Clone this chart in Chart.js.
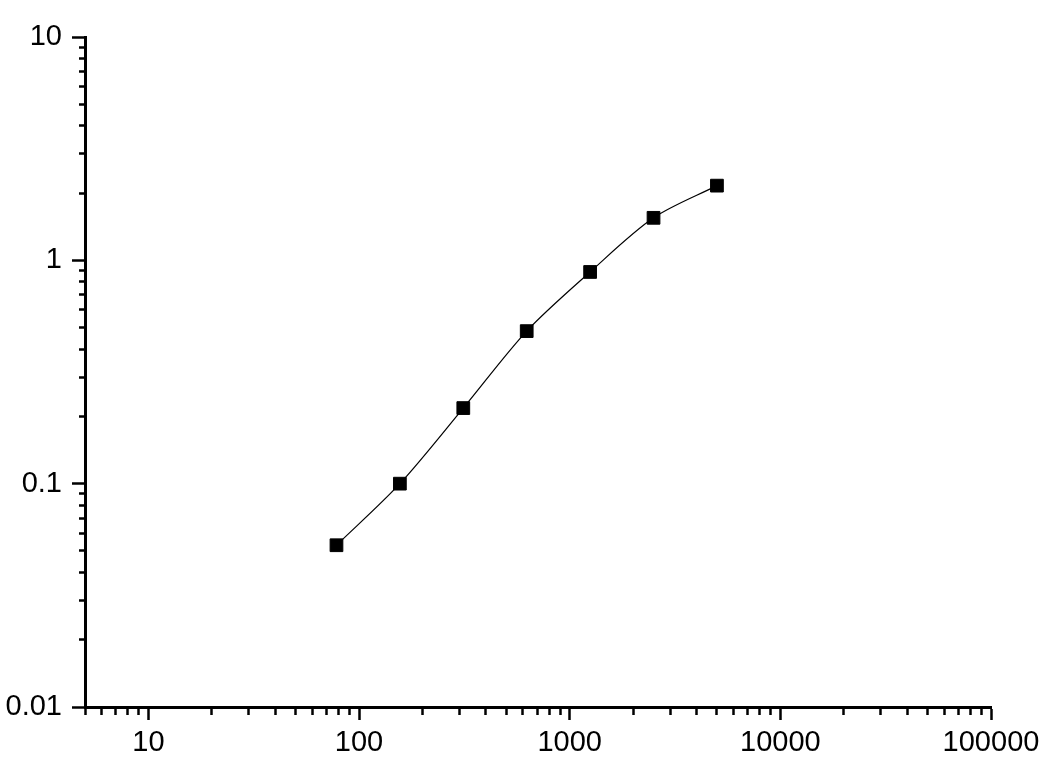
<!DOCTYPE html>
<html><head><meta charset="utf-8">
<script src="https://cdn.jsdelivr.net/npm/chart.js@4/dist/chart.umd.min.js"></script>
<style>html,body{margin:0;padding:0;background:#fff;} #wrap{width:1063px;height:769px;position:relative;}</style>
</head><body><div id="wrap"><canvas id="c"></canvas></div>
<script>
// ---- data ----
const concentrations = [78.125, 156.25, 312.5, 625, 1250, 2500, 5000];
const absorbance = [0.053, 0.100, 0.218, 0.482, 0.887, 1.55, 2.16];
// ---- axes ----
const xRange = [5, 100000];
const yRange = [0.01, 10];
const xMajorTicks = [10, 100, 1000, 10000, 100000];
const xTickLabels = ['10', '100', '1000', '10000', '100000'];
const yMajorTicks = [0.01, 0.1, 1, 10];
const yTickLabels = ['0.01', '0.1', '1', '10'];

const FONT = {family: "Liberation Sans", size: 29};

function near(a, b) { return Math.abs(Math.log10(a) - Math.log10(b)) < 1e-6; }
function majorIndex(list, v) { return list.findIndex(m => near(m, v)); }
function logTicks(min, max, majors) {
  const out = [];
  for (let e = Math.floor(Math.log10(min)); e <= Math.ceil(Math.log10(max)); e++) {
    for (let m = 1; m < 10; m++) {
      const v = +(m * Math.pow(10, e)).toPrecision(8);
      if (v >= min * 0.9999 && v <= max * 1.0001) out.push({value: v, major: majorIndex(majors, v) >= 0});
    }
  }
  return out;
}

const data = concentrations.map((c, i) => ({x: c, y: absorbance[i]}));

new Chart(document.getElementById('c'), {
  type: 'scatter',
  data: {
    datasets: [{
      data: data,
      showLine: true,
      borderColor: '#000',
      borderWidth: 1.2,
      tension: 0.3,
      pointStyle: 'rect',
      pointRadius: 9,
      pointBorderWidth: 1,
      pointBackgroundColor: '#000',
      pointBorderColor: '#000',
      pointHoverRadius: 9
    }]
  },
  options: {
    responsive: true,
    maintainAspectRatio: false,
    animation: false,
    devicePixelRatio: 1,
    layout: {padding: {top: 37, right: 72, left: 0, bottom: 0}},
    plugins: {legend: {display: false}, tooltip: {enabled: false}},
    scales: {
      x: {
        type: 'logarithmic',
        position: 'bottom',
        min: xRange[0], max: xRange[1],
        afterBuildTicks: s => { s.ticks = logTicks(xRange[0], xRange[1], xMajorTicks); },
        afterFit: s => { s.height = 62; },
        border: {display: true, color: '#000', width: 3},
        grid: {
          display: true, drawOnChartArea: false, drawTicks: true,
          tickLength: 13, tickWidth: 2.5, tickColor: '#000',
          tickBorderDash: ctx => (ctx.tick && majorIndex(xMajorTicks, ctx.tick.value) >= 0) ? [] : [6, 100]
        },
        ticks: {
          autoSkip: false, maxRotation: 0, color: '#000', font: FONT, padding: 6,
          callback: (v) => { const i = majorIndex(xMajorTicks, v); return i >= 0 ? xTickLabels[i] : ''; }
        }
      },
      y: {
        type: 'logarithmic',
        position: 'left',
        min: yRange[0], max: yRange[1],
        afterBuildTicks: s => { s.ticks = logTicks(yRange[0], yRange[1], yMajorTicks); },
        afterFit: s => { s.width = 85; },
        border: {display: true, color: '#000', width: 3},
        grid: {
          display: true, drawOnChartArea: false, drawTicks: true,
          tickLength: 13, tickWidth: 2.5, tickColor: '#000',
          tickBorderDash: ctx => (ctx.tick && majorIndex(yMajorTicks, ctx.tick.value) >= 0) ? [] : [0, 7, 6, 100]
        },
        ticks: {
          autoSkip: false, color: '#000', font: FONT, padding: 10,
          callback: (v) => { const i = majorIndex(yMajorTicks, v); return i >= 0 ? yTickLabels[i] : ''; }
        }
      }
    }
  }
});
</script>
</body></html>
